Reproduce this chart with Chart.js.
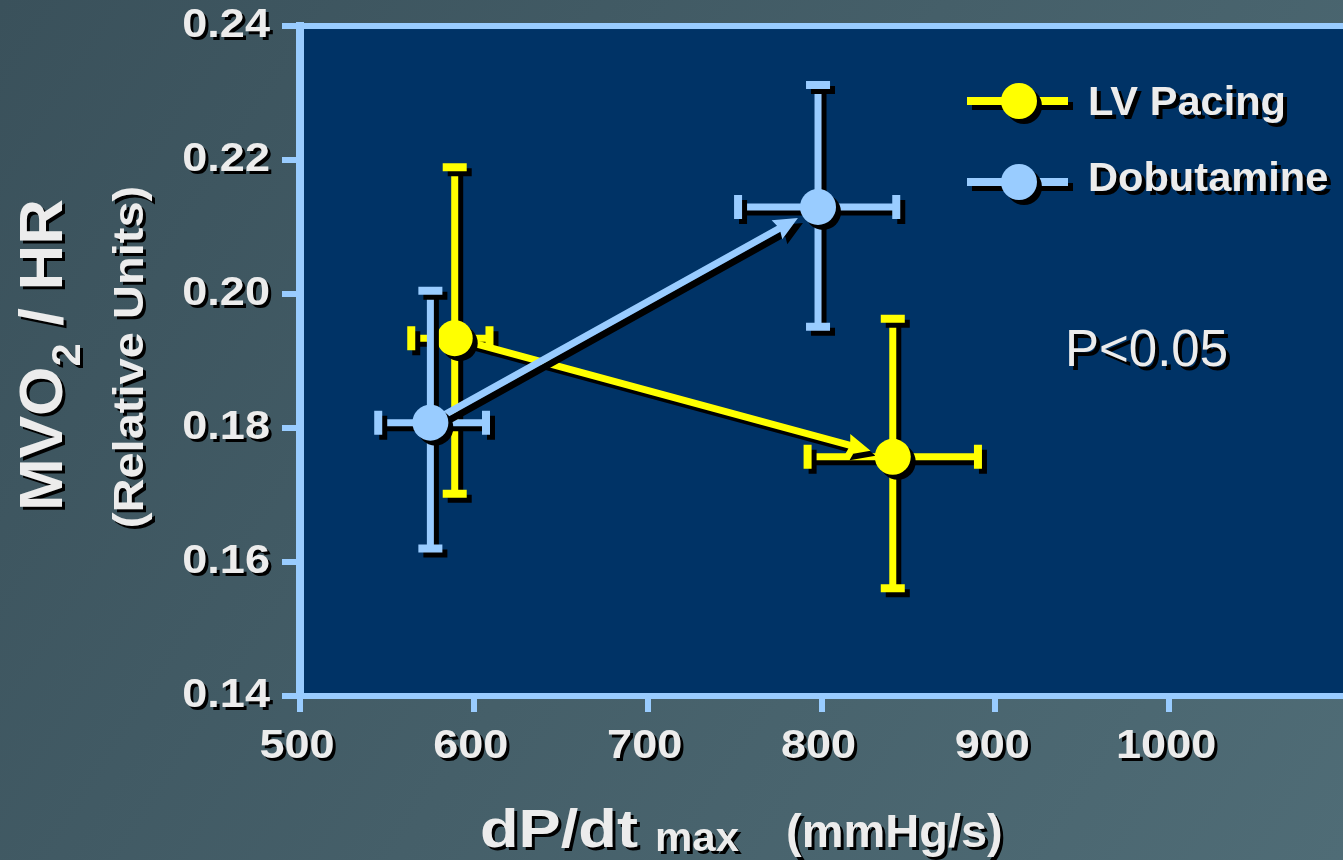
<!DOCTYPE html>
<html>
<head>
<meta charset="utf-8">
<title>MVO2 / HR vs dP/dt max</title>
<script src="https://cdn.jsdelivr.net/npm/chart.js@4.4.0/dist/chart.umd.min.js"></script>
<style>
  html, body { margin: 0; padding: 0; background: #46606a; overflow: hidden; }
  canvas { display: block; }
</style>
</head>
<body>
<canvas id="chart" width="1343" height="860"></canvas>
<script>
// values (baseline -> stimulated)
const conditions = ['Baseline', 'Stimulated'];

const lvX    = [589, 841];
const lvY    = [0.1934, 0.1757];
const lvXLo  = [564, 792];
const lvXHi  = [609, 890];
const lvYLo  = [0.1702, 0.1561];
const lvYHi  = [0.2189, 0.1963];

const dobX   = [575, 798];
const dobY   = [0.1808, 0.2130];
const dobXLo = [545, 752];
const dobXHi = [607, 843];
const dobYLo = [0.1620, 0.1951];
const dobYHi = [0.2005, 0.2312];

const xTicks = [500, 600, 700, 800, 900, 1000];
const yTicks = [0.14, 0.16, 0.18, 0.20, 0.22, 0.24];

const FONT = '"Liberation Sans", Arial, Helvetica, sans-serif';
const WHITE = '#ececec';
const YELLOW = '#ffff00';
const LIGHTBLUE = '#99ccff';
const NAVY = '#003366';

const series = [
    { name: 'LV Pacing', color: YELLOW, x: lvX, y: lvY, xLo: lvXLo, xHi: lvXHi, yLo: lvYLo, yHi: lvYHi },
    { name: 'Dobutamine', color: LIGHTBLUE, x: dobX, y: dobY, xLo: dobXLo, xHi: dobXHi, yLo: dobYLo, yHi: dobYHi }
];

const POINT_R = 18;

function setShadow(ctx, off) {
    ctx.shadowColor = '#000';
    ctx.shadowBlur = 0;
    ctx.shadowOffsetX = off;
    ctx.shadowOffsetY = off;
}

function clearShadow(ctx) {
    ctx.shadowColor = 'rgba(0,0,0,0)';
    ctx.shadowOffsetX = 0;
    ctx.shadowOffsetY = 0;
}

// text with drop shadow, optional horizontal stretch and rotation
function drawText(ctx, str, x, y, o) {
    ctx.save();
    ctx.translate(x, y);
    if (o.rot) ctx.rotate(o.rot);
    ctx.scale(o.sx || 1, 1);
    ctx.font = o.font;
    ctx.textAlign = o.align || 'left';
    ctx.textBaseline = o.baseline || 'alphabetic';
    setShadow(ctx, o.shadow || 3);
    ctx.fillStyle = o.color || WHITE;
    ctx.fillText(str, 0, 0);
    ctx.restore();
}

function textWidth(ctx, str, font, sx) {
    ctx.save();
    ctx.font = font;
    const w = ctx.measureText(str).width * (sx || 1);
    ctx.restore();
    return w;
}

const decorPlugin = {
    id: 'decor',
    beforeDraw(chart) {
        const ctx = chart.ctx, a = chart.chartArea;
        ctx.save();
        const g = ctx.createLinearGradient(0, 0, chart.width, chart.height);
        g.addColorStop(0, '#3a515b');
        g.addColorStop(0.5, '#455f69');
        g.addColorStop(1, '#4f6c76');
        ctx.fillStyle = g;
        ctx.fillRect(0, 0, chart.width, chart.height);
        ctx.fillStyle = NAVY;
        ctx.fillRect(a.left, a.top, a.right - a.left, a.bottom - a.top);
        ctx.restore();
    },
    beforeDatasetDraw(chart, args) {
        const ctx = chart.ctx;
        const s = series[args.index];
        const xs = chart.scales.x, ys = chart.scales.y;
        ctx.save();
        setShadow(ctx, 5);
        ctx.strokeStyle = s.color;
        ctx.fillStyle = s.color;
        ctx.lineCap = 'butt';

        // error bars
        for (let i = 0; i < s.x.length; i++) {
            const px = xs.getPixelForValue(s.x[i]);
            const py = ys.getPixelForValue(s.y[i]);
            const xl = xs.getPixelForValue(s.xLo[i]);
            const xh = xs.getPixelForValue(s.xHi[i]);
            const yl = ys.getPixelForValue(s.yLo[i]);
            const yh = ys.getPixelForValue(s.yHi[i]);
            ctx.lineWidth = 7;
            ctx.beginPath();
            ctx.moveTo(xl, py); ctx.lineTo(xh, py);
            ctx.moveTo(px, yl); ctx.lineTo(px, yh);
            ctx.stroke();
            ctx.lineWidth = 8;
            ctx.beginPath();
            ctx.moveTo(xl, py - 12); ctx.lineTo(xl, py + 12);
            ctx.moveTo(xh, py - 12); ctx.lineTo(xh, py + 12);
            ctx.moveTo(px - 12, yl); ctx.lineTo(px + 12, yl);
            ctx.moveTo(px - 12, yh); ctx.lineTo(px + 12, yh);
            ctx.stroke();
        }

        // arrow from first to second condition
        const x0 = xs.getPixelForValue(s.x[0]), y0 = ys.getPixelForValue(s.y[0]);
        const x1 = xs.getPixelForValue(s.x[1]), y1 = ys.getPixelForValue(s.y[1]);
        const len = Math.hypot(x1 - x0, y1 - y0);
        const ux = (x1 - x0) / len, uy = (y1 - y0) / len;
        const nx = -uy, ny = ux;
        const tipX = x1 - ux * (POINT_R + 5), tipY = y1 - uy * (POINT_R + 5);
        const headL = 24, headW = 11;
        const bx = tipX - ux * headL, by = tipY - uy * headL;
        ctx.beginPath();
        ctx.moveTo(x0 - nx * 3.5, y0 - ny * 3.5);
        ctx.lineTo(bx + ux * 2 - nx * 3.5, by + uy * 2 - ny * 3.5);
        ctx.lineTo(bx - nx * headW, by - ny * headW);
        ctx.lineTo(tipX, tipY);
        ctx.lineTo(bx + nx * headW, by + ny * headW);
        ctx.lineTo(bx + ux * 2 + nx * 3.5, by + uy * 2 + ny * 3.5);
        ctx.lineTo(x0 + nx * 3.5, y0 + ny * 3.5);
        ctx.closePath();
        ctx.fill();
        ctx.restore();

        // shadow for the markers drawn by Chart.js
        setShadow(ctx, 5);
    },
    afterDatasetDraw(chart) {
        clearShadow(chart.ctx);
    },
    afterDraw(chart) {
        const ctx = chart.ctx, a = chart.chartArea;
        const xs = chart.scales.x, ys = chart.scales.y;

        // top frame line
        ctx.save();
        ctx.strokeStyle = LIGHTBLUE;
        ctx.lineWidth = 6;
        ctx.beginPath();
        ctx.moveTo(a.left, a.top);
        ctx.lineTo(a.right, a.top);
        ctx.stroke();
        ctx.restore();

        const tickFont = 'bold 41px ' + FONT;
        yTicks.forEach(v => {
            drawText(ctx, v.toFixed(2), 270, ys.getPixelForValue(v), { font: tickFont, align: 'right', baseline: 'middle', sx: 1.1 });
        });
        xTicks.forEach(v => {
            drawText(ctx, String(v), xs.getPixelForValue(v) - 3, 747, { font: tickFont, align: 'center', baseline: 'middle', sx: 1.1 });
        });

        // y title: MVO2 / HR
        const tf = 'bold 61px ' + FONT, sf = 'bold 40px ' + FONT;
        const w1 = textWidth(ctx, 'MVO', tf, 1.04);
        const w2 = textWidth(ctx, '2', sf, 1.04);
        const w3 = textWidth(ctx, ' / HR', tf, 1.04);
        const total = w1 + w2 + w3;
        let start = 355 + total / 2;
        const rot = -Math.PI / 2;
        drawText(ctx, 'MVO', 62, start, { font: tf, rot, sx: 1.04 });
        drawText(ctx, '2', 80, start - w1, { font: sf, rot, sx: 1.04 });
        drawText(ctx, ' / HR', 62, start - w1 - w2, { font: tf, rot, sx: 1.04 });
        drawText(ctx, '(Relative Units)', 143, 357, { font: 'bold 42px ' + FONT, rot, sx: 1.12, align: 'center' });

        // x title
        drawText(ctx, 'dP/dt', 480, 847, { font: 'bold 54px ' + FONT, sx: 1.17 });
        drawText(ctx, 'max', 655, 851, { font: 'bold 40px ' + FONT, sx: 1.05 });
        drawText(ctx, '(mmHg/s)', 786, 847, { font: 'bold 47px ' + FONT });

        // legend
        const legendY = [101, 182];
        const legendBase = [115, 191];
        series.forEach((s, i) => {
            const y = legendY[i];
            ctx.save();
            setShadow(ctx, 5);
            ctx.strokeStyle = s.color;
            ctx.fillStyle = s.color;
            ctx.lineWidth = 8;
            ctx.beginPath();
            ctx.moveTo(967, y);
            ctx.lineTo(1068, y);
            ctx.stroke();
            ctx.beginPath();
            ctx.arc(1019, y, POINT_R, 0, Math.PI * 2);
            ctx.fill();
            ctx.restore();
            drawText(ctx, s.name, 1088, legendBase[i], { font: 'bold 40px ' + FONT, sx: 1.04, shadow: 4 });
        });

        drawText(ctx, 'P<0.05', 1065, 366, { font: '51px ' + FONT, shadow: 4 });
    }
};

const ctx = document.getElementById('chart').getContext('2d');
const chart = new Chart(ctx, {
    type: 'scatter',
    data: {
        datasets: series.map((s, i) => ({
            label: s.name,
            data: s.x.map((x, j) => ({ x: x, y: s.y[j] })),
            backgroundColor: s.color,
            borderColor: s.color,
            borderWidth: 0,
            pointRadius: POINT_R,
            pointHoverRadius: POINT_R,
            pointBorderWidth: 0,
            showLine: false,
            clip: false,
            order: series.length - i
        }))
    },
    options: {
        responsive: false,
        animation: false,
        events: [],
        layout: { autoPadding: false, padding: { left: 282, top: 26, right: 0, bottom: 148 } },
        plugins: {
            legend: { display: false },
            tooltip: { enabled: false }
        },
        scales: {
            x: {
                type: 'linear',
                min: 500,
                max: 1100,
                ticks: { display: false, stepSize: 100 },
                grid: {
                    drawOnChartArea: false,
                    drawTicks: true,
                    tickLength: 16,
                    lineWidth: 6,
                    color: c => (c.tick && c.tick.value === 1100) ? 'rgba(0,0,0,0)' : LIGHTBLUE
                },
                border: { display: true, color: LIGHTBLUE, width: 6 }
            },
            y: {
                type: 'linear',
                min: 0.14,
                max: 0.24,
                ticks: { display: false, stepSize: 0.02 },
                grid: {
                    drawOnChartArea: false,
                    drawTicks: true,
                    tickLength: 18,
                    lineWidth: 6,
                    color: LIGHTBLUE
                },
                border: { display: true, color: LIGHTBLUE, width: 8 }
            }
        }
    },
    plugins: [decorPlugin]
});
</script>
</body>
</html>
